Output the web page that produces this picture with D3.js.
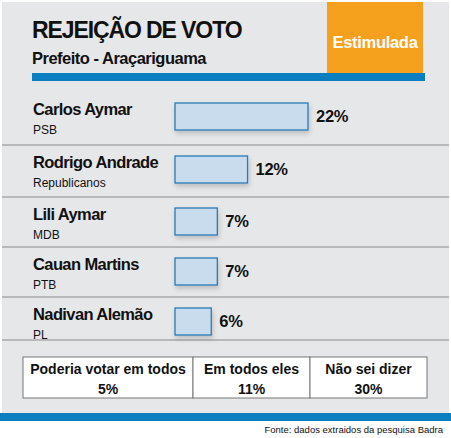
<!DOCTYPE html>
<html><head><meta charset="utf-8">
<script src="https://cdn.jsdelivr.net/npm/d3@7"></script>
<style>body{margin:0;background:#fff}text{font-family:"Liberation Sans",Arial,sans-serif}</style>
</head><body><svg id="c" width="451" height="438"></svg>
<script>
var names = ["Carlos Aymar","Rodrigo Andrade","Lili Aymar","Cauan Martins","Nadivan Alemão"];
var parties = ["PSB","Republicanos","MDB","PTB","PL"];
var values = [22,12,7,7,6];
var boxLabels = ["Poderia votar em todos","Em todos eles","Não sei dizer"];
var boxValues = [5,11,30];

var svg = d3.select("#c");
var defs = svg.append("defs");
var f = defs.append("filter").attr("id","sh").attr("x","-20%").attr("y","-30%").attr("width","140%").attr("height","170%");
f.append("feDropShadow").attr("dx",1).attr("dy",3).attr("stdDeviation",2.5).attr("flood-color","#000").attr("flood-opacity",0.18);

svg.append("rect").attr("x",2).attr("y",2).attr("width",447).attr("height",412).attr("fill","#e6e7e9");
svg.append("rect").attr("x",327).attr("y",2).attr("width",96).attr("height",72).attr("fill","#f5a11e");
svg.append("text").attr("x",375).attr("y",48).attr("text-anchor","middle").attr("fill","#fff").attr("font-size",16.5).attr("font-weight","bold").attr("letter-spacing",-0.3).text("Estimulada");
svg.append("text").attr("x",32).attr("y",38).attr("font-size",23).attr("font-weight","bold").attr("letter-spacing",-1.1).attr("fill","#111").text("REJEIÇÃO DE VOTO");
svg.append("text").attr("x",32).attr("y",64).attr("font-size",16.5).attr("font-weight","bold").attr("letter-spacing",-0.5).attr("fill","#111").text("Prefeito - Araçariguama");
svg.append("rect").attr("x",32).attr("y",73).attr("width",393).attr("height",8).attr("fill","#0a7fc0");

var x = d3.scaleLinear().domain([0,22]).range([0,133]);
var rowTop = [92,145,197,247,297];
var rowH = [53,52,50,50,43];
var g = svg.selectAll("g.row").data(names).enter().append("g").attr("class","row")
  .attr("transform",function(d,i){return "translate(0,"+rowTop[i]+")";});
g.append("line").attr("x1",2).attr("x2",449).attr("y1",function(d,i){return rowH[i];}).attr("y2",function(d,i){return rowH[i];}).attr("stroke","#8a8a8a").attr("stroke-width",1);
g.append("text").attr("x",33).attr("y",23).attr("font-size",16.5).attr("font-weight","bold").attr("letter-spacing",-0.6).attr("fill","#111").text(function(d){return d;});
g.append("text").attr("x",33).attr("y",42).attr("font-size",12).attr("fill","#111").text(function(d,i){return parties[i];});
g.append("rect").attr("x",175).attr("y",11).attr("height",27).attr("width",function(d,i){return x(values[i]);})
  .attr("fill","#c9dcee").attr("stroke","#2a7ab5").attr("stroke-width",1.3).attr("filter","url(#sh)");
g.append("text").attr("x",function(d,i){return 175+x(values[i])+8;}).attr("y",30).attr("font-size",16.5).attr("font-weight","bold").attr("letter-spacing",-0.3).attr("fill","#111").text(function(d,i){return values[i]+"%";});

var bx = [23,193,310,427];
var b = svg.selectAll("g.box").data(boxLabels).enter().append("g").attr("class","box");
b.append("rect").attr("x",function(d,i){return bx[i];}).attr("y",357).attr("width",function(d,i){return bx[i+1]-bx[i];}).attr("height",41)
  .attr("fill","#fff").attr("stroke","#777").attr("stroke-width",1);
b.append("text").attr("x",function(d,i){return (bx[i]+bx[i+1])/2;}).attr("y",374).attr("text-anchor","middle").attr("font-size",14).attr("font-weight","bold").attr("fill","#111").text(function(d){return d;});
b.append("text").attr("x",function(d,i){return (bx[i]+bx[i+1])/2;}).attr("y",394).attr("text-anchor","middle").attr("font-size",14).attr("font-weight","bold").attr("fill","#111").text(function(d,i){return boxValues[i]+"%";});

svg.append("rect").attr("x",0).attr("y",413).attr("width",451).attr("height",8).attr("fill","#0a7fc0");
svg.append("text").attr("x",443).attr("y",433).attr("text-anchor","end").attr("font-size",9.5).attr("fill","#111").text("Fonte: dados extraidos da pesquisa Badra");
</script></body></html>
